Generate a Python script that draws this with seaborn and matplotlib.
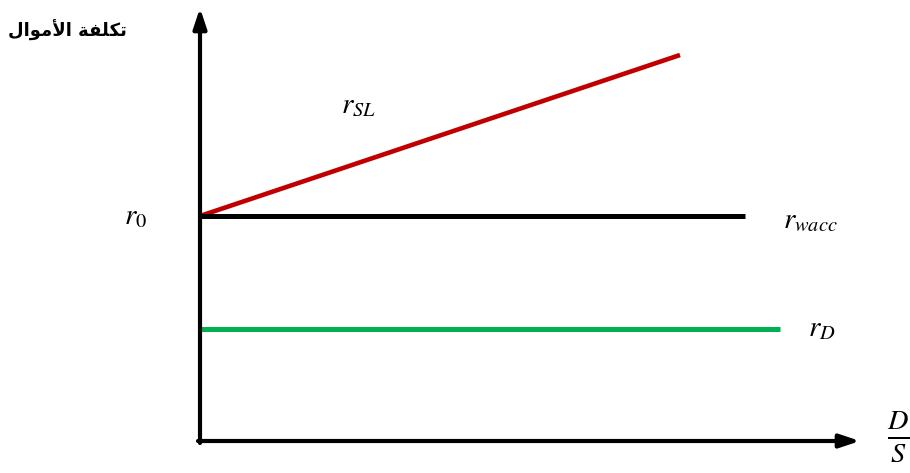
import pandas as pd
import matplotlib.pyplot as plt
import seaborn as sns

# D/S on x, cost of capital on y (arbitrary units)
r0 = 225
x_sl = [0, 480]
y_sl = [r0, 386]
x_wacc = [0, 545]
y_wacc = [r0, r0]
x_d = [0, 580]
y_d = [112, 112]

# تكلفة الأموال in presentation forms, visual order (matplotlib does no Arabic shaping)
y_title = '\uFEDD\uFE8D\uFEEE\uFEE3\uFEF7\uFE8D \uFE94\uFED4\uFEE0\uFEDC\uFE97'

sns.set_style('white')
plt.rcParams['font.family'] = ['DejaVu Sans']
plt.rcParams['mathtext.fontset'] = 'stix'
plt.rcParams['text.color'] = 'black'

fig = plt.figure(figsize=(9.1, 4.73), dpi=100)
ax = fig.add_axes([0, 0, 1, 1])

sns.lineplot(x=x_sl, y=y_sl, color='#c00000', linewidth=3.3, solid_capstyle='butt', ax=ax)
sns.lineplot(x=x_wacc, y=y_wacc, color='black', linewidth=3.6, solid_capstyle='butt', ax=ax)
sns.lineplot(x=x_d, y=y_d, color='#00b050', linewidth=3.6, solid_capstyle='butt', ax=ax)

# axes with arrow heads
arrow = dict(arrowstyle='-|>,head_length=1.2,head_width=0.4', color='black', lw=3.0, shrinkA=0, shrinkB=0)
ax.annotate('', xy=(0, 433), xytext=(0, -2), arrowprops=arrow)
ax.annotate('', xy=(660, 0), xytext=(-2, 0), arrowprops=arrow)

ax.text(-64, r0, '$r_0$', fontsize=21, ha='center', va='center')
ax.text(158, 336, '$r_{SL}$', fontsize=21, ha='center', va='center')
ax.text(610, 221, '$r_{wacc}$', fontsize=21, ha='center', va='center')
ax.text(622, 113, '$r_D$', fontsize=21, ha='center', va='center')
ax.text(698, 4, r'$\frac{D}{S}$', fontsize=29, ha='center', va='center')
ax.text(-133, 411, y_title, fontsize=13, fontweight='bold', ha='center', va='center')

ax.set_xlim(-200, 710)
ax.set_ylim(-32, 441)
ax.axis('off')

plt.savefig('out.png', dpi=100)
